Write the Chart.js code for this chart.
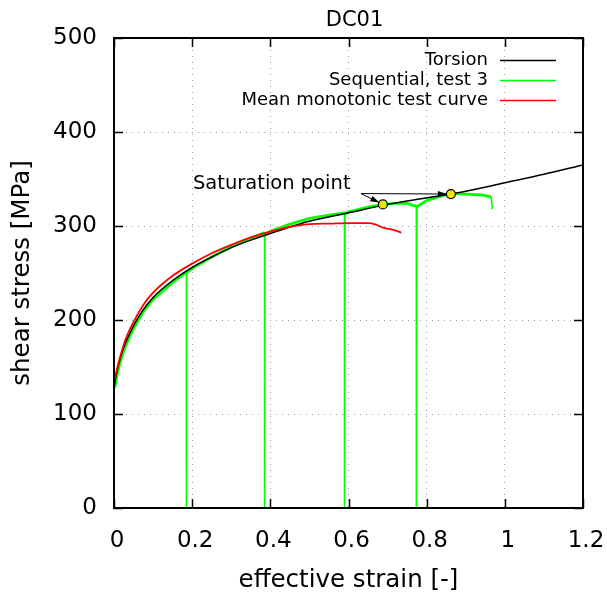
<!DOCTYPE html>
<html><head><meta charset="utf-8">
<script src="https://cdn.jsdelivr.net/npm/chart.js@4/dist/chart.umd.min.js"></script>
<style>html,body{margin:0;padding:0;background:#fff}canvas{display:block}</style>
</head><body>
<canvas id="c" width="607" height="593"></canvas>
<script>
// ---- data ----
const chartTitle = 'DC01';
const xAxisTitle = 'effective strain [-]';
const yAxisTitle = 'shear stress [MPa]';
const xTickValues = [0, 0.2, 0.4, 0.6, 0.8, 1, 1.2];
const xTickLabels = ['0', '0.2', '0.4', '0.6', '0.8', '1', '1.2'];
const yTickValues = [0, 100, 200, 300, 400, 500];
const yTickLabels = ['0', '100', '200', '300', '400', '500'];
const seriesLabels = ['Torsion', 'Sequential, test 3', 'Mean monotonic test curve'];

const torsionX = [0, 0.005, 0.01, 0.02, 0.03, 0.05, 0.075, 0.1, 0.15, 0.2, 0.25, 0.3, 0.35, 0.4, 0.45, 0.5, 0.6, 0.7, 0.8, 0.9, 1.0, 1.1, 1.2];
const torsionY = [128, 140, 150, 165, 176, 194, 211, 224, 242, 256, 267, 277, 285, 292, 299, 305, 314, 323, 330, 337, 346, 355, 365];

const seqX = [0.002, 0.01, 0.02, 0.03, 0.05, 0.075, 0.1, 0.15, 0.186, 0.186,
              0.185, 0.185, 0.2, 0.25, 0.3, 0.35, 0.386, 0.386,
              0.385, 0.385, 0.4, 0.45, 0.5, 0.55, 0.591, 0.591,
              0.589, 0.589, 0.6, 0.65, 0.688, 0.72, 0.75, 0.765, 0.775, 0.775,
              0.773, 0.773, 0.8, 0.83, 0.862, 0.9, 0.94, 0.965, 0.968];
const seqY = [128, 146, 161, 173, 191, 209, 222, 240, 251, 0,
              0, 250, 255, 267, 278, 287, 293, 0,
              0, 291, 294.5, 302, 308, 311.5, 314, 0,
              0, 312, 315, 320, 323, 324, 324, 322, 321, 0,
              0, 320, 327, 331, 335, 334, 333, 331, 318];

const meanX = [0, 0.005, 0.01, 0.02, 0.03, 0.05, 0.075, 0.1, 0.15, 0.2, 0.25, 0.3, 0.35, 0.4, 0.45, 0.5, 0.55, 0.6, 0.65, 0.67, 0.69, 0.715, 0.735];
const meanY = [133, 143, 152, 167, 180, 198, 216, 229, 247, 260, 271, 280, 288, 294, 299, 302, 302.5, 303, 303, 301.5, 298, 296, 293];

const satX = [0.688, 0.862];
const satY = [323, 334];
const satLabel = 'Saturation point';
const satLabelPos = [0.202, 345];
const satArrowTail = [0.632, 334.5];

// ---- build ----
const pts = (xs, ys) => xs.map((x, i) => ({x, y: ys[i]}));
const FONT = 'DejaVu Sans';

const framePlugin = {
  id: 'frame',
  afterDatasetsDraw(chart) {
    const {ctx, chartArea: a, scales: {x, y}} = chart;
    ctx.save();
    ctx.strokeStyle = '#000';
    ctx.lineWidth = 2;
    ctx.strokeRect(a.left, a.top, a.right - a.left, a.bottom - a.top);
    ctx.lineWidth = 1.5;
    const tl = 9;
    ctx.beginPath();
    xTickValues.forEach(v => {
      const px = Math.round(x.getPixelForValue(v)) + 0.5;
      ctx.moveTo(px, a.bottom); ctx.lineTo(px, a.bottom - tl);
      ctx.moveTo(px, a.top); ctx.lineTo(px, a.top + tl);
    });
    yTickValues.forEach(v => {
      const py = Math.round(y.getPixelForValue(v)) + 0.5;
      ctx.moveTo(a.left, py); ctx.lineTo(a.left + tl, py);
      ctx.moveTo(a.right, py); ctx.lineTo(a.right - tl, py);
    });
    ctx.stroke();

    // annotation: label + arrows
    ctx.fillStyle = '#000';
    ctx.font = '19.5px "' + FONT + '"';
    ctx.textAlign = 'left';
    ctx.textBaseline = 'middle';
    ctx.fillText(satLabel, x.getPixelForValue(satLabelPos[0]), y.getPixelForValue(satLabelPos[1]));
    const tx = x.getPixelForValue(satArrowTail[0]), ty = y.getPixelForValue(satArrowTail[1]);
    ctx.lineWidth = 1;
    satX.forEach((sx, i) => {
      const hx = x.getPixelForValue(sx), hy = y.getPixelForValue(satY[i]);
      const ang = Math.atan2(hy - ty, hx - tx);
      const ex = hx - 4 * Math.cos(ang), ey = hy - 4 * Math.sin(ang);
      ctx.beginPath(); ctx.moveTo(tx, ty); ctx.lineTo(ex, ey); ctx.stroke();
      const L = 9, W = 3;
      ctx.beginPath();
      ctx.moveTo(ex, ey);
      ctx.lineTo(ex - L * Math.cos(ang) + W * Math.sin(ang), ey - L * Math.sin(ang) - W * Math.cos(ang));
      ctx.lineTo(ex - L * Math.cos(ang) - W * Math.sin(ang), ey - L * Math.sin(ang) + W * Math.cos(ang));
      ctx.closePath(); ctx.fill();
    });

    // legend
    ctx.font = '18px "' + FONT + '"';
    ctx.textAlign = 'right';
    chart.data.datasets.forEach((ds, i) => {
      if (ds.noLegend) return;
      const ry = a.top + 22 + i * 20;
      ctx.fillStyle = '#000';
      ctx.fillText(ds.label, a.right - 95, ry);
      ctx.strokeStyle = ds.legendColor;
      ctx.lineWidth = 1.5;
      ctx.beginPath(); ctx.moveTo(a.right - 83, ry + 0.5); ctx.lineTo(a.right - 27, ry + 0.5); ctx.stroke();
    });

    // title
    ctx.font = '21px "' + FONT + '"';
    ctx.textAlign = 'center';
    ctx.fillStyle = '#000';
    ctx.fillText(chartTitle, (a.left + a.right) / 2 + 6, 21);
    ctx.restore();
  }
};

new Chart(document.getElementById('c'), {
  type: 'scatter',
  data: {
    datasets: [
      {label: seriesLabels[0], data: pts(torsionX, torsionY), showLine: true, borderColor: '#000', legendColor: '#000',
       borderWidth: 1.5, pointRadius: 0, cubicInterpolationMode: 'monotone', order: 1},
      {label: seriesLabels[1], data: pts(seqX, seqY), showLine: true, borderColor: '#00ff00', legendColor: '#00ff00',
       borderWidth: 2.6, pointRadius: 0, tension: 0, order: 2,
       segment: {borderWidth: c => Math.abs(c.p1.parsed.x - c.p0.parsed.x) < 0.004 ? 1.6 : 2.8}},
      {label: seriesLabels[2], data: pts(meanX, meanY), showLine: true, borderColor: '#ff0000', legendColor: '#ff0000',
       borderWidth: 1.8, pointRadius: 0, cubicInterpolationMode: 'monotone', order: 0},
      {label: 'sat', noLegend: true, data: pts(satX, satY), showLine: false, pointRadius: 4.5,
       pointBackgroundColor: '#f2e600', pointBorderColor: '#000', pointBorderWidth: 1.2, order: -1}
    ]
  },
  options: {
    responsive: false,
    animation: false,
    devicePixelRatio: 1,
    layout: {padding: {left: 0, right: 24, top: 38, bottom: 0}},
    plugins: {legend: {display: false}, title: {display: false}, tooltip: {enabled: false}},
    scales: {
      x: {
        type: 'linear', min: 0, max: 1.2,
        afterBuildTicks: s => { s.ticks = xTickValues.map(v => ({value: v})); },
        afterFit: s => { s.height = 85; s.paddingLeft = 0; s.paddingRight = 0; },
        ticks: {color: '#000', padding: 19, labelOffset: 3, font: {family: FONT, size: 23}, maxRotation: 0, autoSkip: false,
                callback: (v, i) => xTickLabels[i]},
        grid: {color: '#a0a0a0', lineWidth: 1, drawTicks: false},
        border: {display: false, dash: [1, 5]},
        title: {display: true, text: xAxisTitle, color: '#000', font: {family: FONT, size: 24.5, lineHeight: 1}, padding: {top: 0, bottom: 0}}
      },
      y: {
        type: 'linear', min: 0, max: 500,
        afterBuildTicks: s => { s.ticks = yTickValues.map(v => ({value: v})); },
        afterFit: s => { s.width = 114; s.paddingTop = 0; s.paddingBottom = 0; },
        ticks: {color: '#000', padding: 17, font: {family: FONT, size: 23}, callback: (v, i) => yTickLabels[i]},
        grid: {color: '#a0a0a0', lineWidth: 1, drawTicks: false},
        border: {display: false, dash: [1, 5]},
        title: {display: true, text: yAxisTitle, color: '#000', font: {family: FONT, size: 24.5, lineHeight: 1}, padding: {top: 10, bottom: 0}}
      }
    }
  },
  plugins: [framePlugin]
});
</script>
</body></html>
